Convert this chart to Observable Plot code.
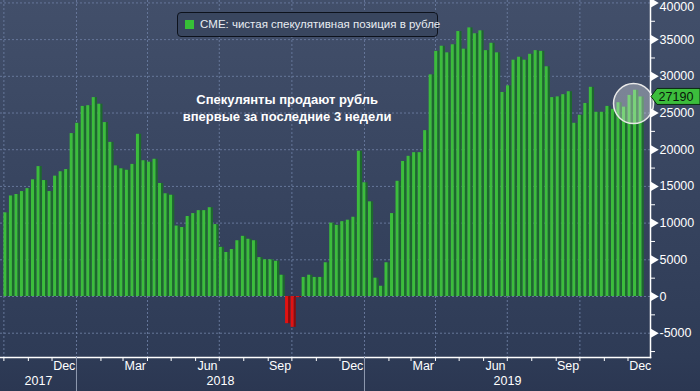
<!DOCTYPE html>
<html><head><meta charset="utf-8">
<script src="https://cdn.jsdelivr.net/npm/d3@7"></script>
<script src="https://cdn.jsdelivr.net/npm/@observablehq/plot@0.6"></script>
<style>
body{margin:0;background:#2b3752;}
#wrap{position:relative;width:700px;height:391px;font-family:"Liberation Sans",Arial,sans-serif;}
#legend{position:absolute;left:177px;top:12px;width:261px;height:25px;box-sizing:border-box;border:1px solid #0d121c;border-radius:4px;background:#39465f;color:#e8ecf2;font-size:11.5px;line-height:23px;white-space:nowrap;}
#legend .sw{display:inline-block;width:9px;height:9px;background:#37c037;margin:0 6px 0 7px;vertical-align:-1px;}
</style></head>
<body><div id="wrap"><div id="legend"><span class="sw"></span>CME: чистая спекулятивная позиция в рубле</div></div>
<script>
// weekly CME net speculative position in RUB (contracts), first week 2017-10-03
const firstWeek = "2017-10-03";
const positions = [
 11400,13700,13900,14300,14700,15900,17700,15800,14300,16400,
 17000,17300,22200,23600,25900,26000,27100,26200,23700,21000,
 17800,17400,17200,18000,22100,18500,18300,18700,15400,14000,
 13800,9600,9400,10900,11300,11700,11700,12100,9800,6700,
 6000,6400,7600,8200,7800,7600,5300,5000,5000,4800,
 2900,-3700,-4200,-150,2600,2900,2600,2600,4600,10000,
 9700,10200,10400,10800,19800,15500,12900,2500,1400,4600,
 11300,15700,18400,19100,19600,19600,22600,30200,33400,34100,
 33200,34300,36100,33700,36600,35800,36200,33500,34500,33200,
 27800,28700,32200,32600,32200,33000,33500,33400,31300,27100,
 27200,27500,27900,23600,24700,26300,28500,25100,25100,25900,
 25500,26400,25800,27400,28100,27190
];
const yTicks = [-5000,0,5000,10000,15000,20000,25000,30000,35000,40000];
const yMinor = [-7500,-2500,2500,7500,12500,17500,22500,27500,32500,37500];
const monthLabels = ["Dec","Mar","Jun","Sep"];
const yearLabels = ["2017","2018","2019"];
const legendText = "CME: чистая спекулятивная позиция в рубле";
const noteText = "Спекулянты продают рубль\nвпервые за последние 3 недели";
const lastLabel = "27190";

const DAY = 864e5;
const start = new Date(firstWeek);
const dates = d3.utcTuesday.range(start, d3.utcTuesday.offset(start, positions.length));
const data = positions.map((v, i) => ({date: dates[i], value: v}));

const xDomain = [new Date("2017-09-26T17:00Z"), new Date("2019-12-29T12:00Z")];
const monthStarts = d3.utcMonth.range(new Date("2017-10-01"), new Date("2020-01-01"));
const quarterStarts = monthStarts.filter(d => d.getUTCMonth() % 3 === 0);
const yearStarts = [new Date("2018-01-01"), new Date("2019-01-01")];
const midMonths = monthStarts.filter(d => monthLabels.includes(d3.utcFormat("%b")(d)))
  .map(d => new Date((+d + +d3.utcMonth.offset(d, 1)) / 2));
const bounds = [xDomain[0], ...yearStarts, xDomain[1]];
const yearMids = yearLabels.map((y, i) => new Date((+bounds[i] + +bounds[i + 1]) / 2));

const green = "#3cbd3c", greenDark = "#1c6a2c", red = "#e21212", redDark = "#8e0a0a";
const off = (d, days) => new Date(+d + days * DAY);
const gridColor = "#66779a";
const font = "'Liberation Sans', Arial, sans-serif";
const topTick = yTicks[yTicks.length - 1];

const last = data[data.length - 1];

const chart = Plot.plot({
  width: 700, height: 391,
  marginLeft: 0, marginRight: 50, marginTop: 0, marginBottom: 34,
  x: {type: "utc", domain: xDomain, axis: null},
  y: {domain: [-8310, 40330], axis: null},
  style: {background: "linear-gradient(to bottom, #424f6a 0px, #2e3b56 357px, #2b3752 391px)", fontFamily: font, overflow: "visible"},
  marks: [
    Plot.ruleY(yTicks, {stroke: gridColor, strokeDasharray: "2,2", strokeWidth: 1}),
    Plot.ruleX(quarterStarts, {stroke: gridColor, strokeDasharray: "2,2", strokeWidth: 1}),
    // dark side of bars
    Plot.rectY(data, {x1: d => off(d.date, 1.8), x2: d => off(d.date, 4.6), y1: 0, y2: "value",
      fill: d => d.value < 0 ? redDark : greenDark}),
    // bright face of bars
    Plot.rectY(data, {x1: d => off(d.date, -2.0), x2: d => off(d.date, 1.8), y1: 0, y2: "value",
      fill: d => d.value < 0 ? red : green}),
    // highlight circle
    Plot.dot([last], {x: d => off(d.date, -9), y: d => d.value - 900, r: 20,
      fill: "white", fillOpacity: 0.32, stroke: "#e8e8e8", strokeWidth: 1.5}),
    // annotation
    Plot.text([noteText], {x: () => new Date("2018-09-25"), y: () => 25800, fill: "white",
      fontWeight: "bold", fontSize: 13, lineHeight: 1.3, textAnchor: "middle"}),
    // axes lines
    Plot.frame({anchor: "right", stroke: "white", strokeWidth: 1.5}),
    Plot.frame({anchor: "bottom", stroke: "white", strokeWidth: 1.5}),
    // y axis minor ticks
    Plot.axisY(yMinor, {anchor: "right", label: null, tickSize: 4, tickFormat: () => "", stroke: "white"}),
    // y axis major triangles
    Plot.dot(yTicks, {y: d => d, frameAnchor: "right", symbol: "triangle", rotate: 90, r: 3.4, fill: "white", dx: 3}),
    Plot.axisY(yTicks.filter(t => t !== topTick), {anchor: "right", label: null, tickSize: 0, tickPadding: 9,
      tickFormat: d => String(d), fill: "white", fontSize: 12.5}),
    Plot.axisY([topTick], {anchor: "right", label: null, tickSize: 0, tickPadding: 9, dy: 4,
      tickFormat: d => String(d), fill: "white", fontSize: 12.5}),
    // x axis month ticks
    Plot.axisX(monthStarts, {anchor: "bottom", label: null, tickSize: 4, tickFormat: () => "", stroke: "white"}),
    Plot.axisX(yearStarts, {anchor: "bottom", label: null, tickSize: 34, tickFormat: () => "", stroke: "#8f9bb0"}),
    Plot.axisX(midMonths, {anchor: "bottom", label: null, tickSize: 0, tickPadding: 4, tickFormat: d3.utcFormat("%b"),
      fill: "white", fontSize: 12.5}),
    Plot.axisX(yearMids, {anchor: "bottom", label: null, tickSize: 0, tickPadding: 19, tickFormat: (d, i) => yearLabels[i],
      fill: "white", fontSize: 12.5})
  ]
});

// last-value label on the right axis, positioned through the plot's scales
const yS = chart.scale("y");
const svg = d3.select(chart);
const yv = yS.apply(last.value);
const xr = 650;
const g = svg.append("g");
g.append("path")
  .attr("d", `M${xr + 1},${yv} L${xr + 7},${yv - 8} L700,${yv - 8} L700,${yv + 8} L${xr + 7},${yv + 8} Z`)
  .attr("fill", "#3cbd3c").attr("stroke", "#0b2a10").attr("stroke-width", 1);
g.append("text").attr("x", 676).attr("y", yv).attr("dy", "0.36em").attr("text-anchor", "middle")
  .attr("fill", "#08140a").attr("font-size", 12.5).attr("font-family", "'Liberation Sans', Arial, sans-serif")
  .text(lastLabel);

document.getElementById("wrap").prepend(chart);
chart.style.position = "absolute";
chart.style.left = "0"; chart.style.top = "0";
</script>
</body></html>
